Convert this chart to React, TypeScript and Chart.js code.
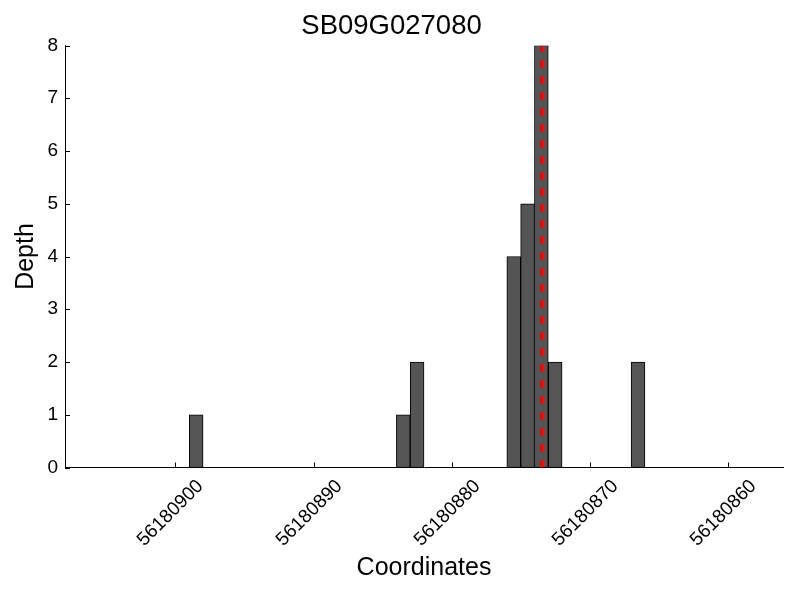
import React, { useEffect, useRef } from "react";
import { Chart, registerables } from "chart.js";

Chart.register(...registerables);

const CHART_TITLE = "SB09G027080";
const X_LABEL = "Coordinates";
const Y_LABEL = "Depth";

// histogram bins (start coordinate of each 1-bp bin) and depth
const binStarts = [56180898, 56180883, 56180882, 56180875, 56180874, 56180873, 56180872, 56180866];
const depths = [1, 1, 2, 4, 5, 8, 2, 2];

// marker (red dashed line)
const markerPosition = 56180873.5;

const xTickValues = [56180900, 56180890, 56180880, 56180870, 56180860];
const yTickValues = [0, 1, 2, 3, 4, 5, 6, 7, 8];
const xMin = 56180856;
const xMax = 56180908;
const yMin = 0;
const yMax = 8;

const FONT = "'Liberation Sans', Arial, Helvetica, sans-serif";
const TICK_SIZE = 19;

const tickPlugin = {
  id: "inwardTicks",
  afterDraw(chart: any) {
    const { ctx, chartArea, scales } = chart;
    const xs = scales.x;
    const ys = scales.y;
    ctx.save();
    ctx.strokeStyle = "#000";
    ctx.lineWidth = 1;
    const tl = 5;
    // y ticks (inward)
    yTickValues.forEach((v) => {
      const py = Math.round(ys.getPixelForValue(v)) + 0.5;
      ctx.beginPath();
      ctx.moveTo(chartArea.left, py);
      ctx.lineTo(chartArea.left + tl, py);
      ctx.stroke();
    });
    // x ticks (inward) + rotated labels
    ctx.font = `${TICK_SIZE}px ${FONT}`;
    ctx.fillStyle = "#000";
    ctx.textAlign = "center";
    ctx.textBaseline = "middle";
    xTickValues.forEach((v) => {
      const px = Math.round(xs.getPixelForValue(v)) + 0.5;
      ctx.beginPath();
      ctx.moveTo(px, chartArea.bottom);
      ctx.lineTo(px, chartArea.bottom - tl);
      ctx.stroke();
      const label = String(v);
      const w = ctx.measureText(label).width;
      const bboxH = (w + TICK_SIZE) * Math.SQRT1_2;
      const cy = chartArea.bottom + 9 + bboxH / 2;
      ctx.save();
      ctx.translate(px - 5, cy);
      ctx.rotate(-Math.PI / 4);
      ctx.fillText(label, 0, 0);
      ctx.restore();
    });
    ctx.restore();
  },
};

export default function App() {
  const canvasRef = useRef<HTMLCanvasElement | null>(null);

  useEffect(() => {
    const canvas = canvasRef.current;
    if (!canvas) return;
    Chart.defaults.font.family = FONT;
    Chart.defaults.color = "#000";

    const chart = new Chart(canvas, {
      type: "bar",
      data: {
        datasets: [
          {
            type: "line",
            label: "marker",
            data: [
              { x: markerPosition, y: yMin },
              { x: markerPosition, y: yMax },
            ],
            borderColor: "#ff0000",
            borderWidth: 3,
            borderDash: [8, 8],
            pointRadius: 0,
            fill: false,
            order: 0,
          } as any,
          {
            type: "bar",
            label: "depth",
            data: binStarts.map((s, i) => ({ x: s + 0.5, y: depths[i] })),
            backgroundColor: "#555555",
            borderColor: "#000000",
            borderWidth: 1,
            borderSkipped: false,
            barPercentage: 1,
            categoryPercentage: 1,
            order: 1,
          } as any,
        ],
      },
      options: {
        animation: false,
        responsive: false,
        devicePixelRatio: 1,
        layout: { padding: { left: 0, right: 17, top: 0, bottom: 0 } },
        plugins: {
          legend: { display: false },
          tooltip: { enabled: false },
          title: {
            display: true,
            text: CHART_TITLE,
            color: "#000",
            font: { size: 27.5, weight: "normal", family: FONT },
            padding: { top: 10.3, bottom: 2.2 },
          },
        },
        scales: {
          x: {
            type: "linear",
            reverse: true,
            offset: false,
            min: xMin,
            max: xMax,
            afterBuildTicks: (scale: any) => {
              scale.ticks = xTickValues.map((v) => ({ value: v }));
            },
            afterFit: (scale: any) => {
              scale.height = 132.5;
            },
            ticks: { display: false },
            grid: { display: false, drawTicks: false, offset: false },
            border: { display: true, color: "#000", width: 1 },
            title: {
              display: true,
              text: X_LABEL,
              color: "#000",
              font: { size: 25, family: FONT },
              padding: { top: 0, bottom: 17 },
            },
          },
          y: {
            type: "linear",
            min: yMin,
            max: yMax,
            afterBuildTicks: (scale: any) => {
              scale.ticks = yTickValues.map((v) => ({ value: v }));
            },
            afterFit: (scale: any) => {
              scale.width = 65;
            },
            ticks: {
              color: "#000",
              font: { size: TICK_SIZE, family: FONT },
              padding: 7,
            },
            grid: { display: false, drawTicks: false },
            border: { display: true, color: "#000", width: 1 },
            title: {
              display: true,
              text: Y_LABEL,
              color: "#000",
              font: { size: 25, family: FONT },
              padding: { top: 11, bottom: 0 },
            },
          },
        },
      },
      plugins: [tickPlugin],
    });

    return () => chart.destroy();
  }, []);

  return (
    <div style={{ position: "absolute", left: 0, top: 0, width: 800, height: 600, background: "#fff" }}>
      <canvas ref={canvasRef} width={800} height={600} />
    </div>
  );
}
